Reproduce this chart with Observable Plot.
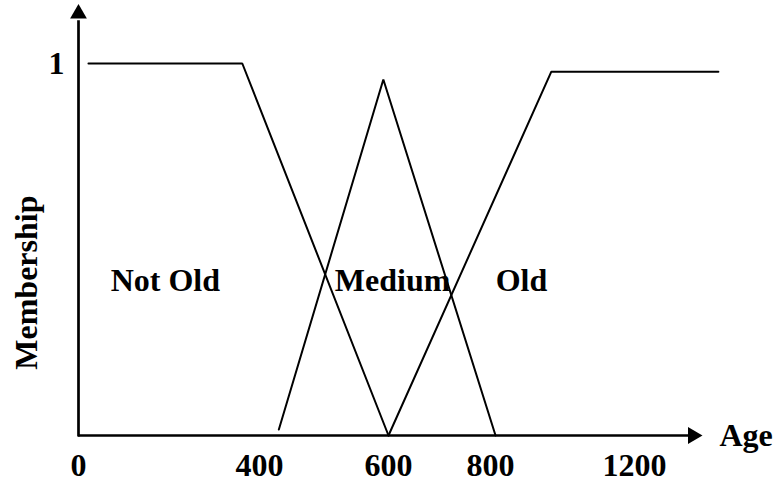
<!DOCTYPE html>
<html>
<head>
<meta charset="utf-8">
<script src="https://cdn.jsdelivr.net/npm/d3@7"></script>
<script src="https://cdn.jsdelivr.net/npm/@observablehq/plot@0.6"></script>
<style>
  html, body { margin: 0; padding: 0; background: #fff; }
  svg { display: block; }
</style>
</head>
<body>
<div id="chart"></div>
<script>
// Fuzzy membership functions for age: [age, membership] break points
const ageTicks = [0, 400, 600, 800, 1200];
const membershipTicks = [1];
const notOld = [[22, 1], [362, 1], [600, 0]];
const medium = [[430, 0.016], [592, 0.957], [814, 0]];
const old = [[600, 0], [969, 0.978], [1433, 0.978]];
const setNames = ["Not Old", "Medium", "Old"];
const setLabelAge = [192, 608, 886];
const setLabelMembership = [0.417, 0.417, 0.417];

// The age axis is not evenly spaced: each tick sits at its own distance along the axis
const tickSpacing = [0, 181, 310, 412, 556];
const agePos = d3.scaleLinear().domain(ageTicks).range(tickSpacing);

// Axis extents (arrow tips) in data units
const ageAxisEnd = 1352, ageArrow = 1362;
const membershipAxisEnd = 1.115, membershipArrow = 1.134;

const font = "'Liberation Serif', 'Times New Roman', serif";
const labels = setNames.map((name, i) => ({name, age: setLabelAge[i], m: setLabelMembership[i]}));
const lineOpts = {x: d => agePos(d[0]), y: d => d[1], stroke: "black", strokeWidth: 2, strokeLinejoin: "miter"};
const textOpts = {fontSize: 32, fontWeight: "bold", fontFamily: font, fill: "black"};

const chart = Plot.plot({
  width: 776,
  height: 482,
  marginTop: 63,
  marginBottom: 47,
  marginLeft: 78,
  marginRight: 142,
  style: {fontFamily: font, fontWeight: "bold", fontSize: "32px", background: "#fff", color: "black"},
  x: {domain: [tickSpacing[0], tickSpacing[tickSpacing.length - 1]]},
  y: {domain: [0, 1]},
  marks: [
    // axes with arrowheads
    Plot.ruleY([0], {x1: agePos(0), x2: agePos(ageAxisEnd), stroke: "black", strokeWidth: 2.7}),
    Plot.ruleX([agePos(0)], {y1: -0.004, y2: membershipAxisEnd, stroke: "black", strokeWidth: 2.7}),
    Plot.dot([0], {x: agePos(ageArrow), y: 0, symbol: "triangle2", r: 8, fill: "black", rotate: 90}),
    Plot.dot([0], {x: agePos(0), y: membershipArrow, symbol: "triangle2", r: 8, fill: "black"}),
    Plot.axisX({ticks: ageTicks.map(agePos), tickSize: 0, tickPadding: 18,
      tickFormat: d => String(Math.round(agePos.invert(d))), label: null, ...textOpts}),
    Plot.axisY({ticks: membershipTicks, tickSize: 0, tickPadding: 14, tickFormat: d => String(d), label: null, ...textOpts}),
    Plot.text(["Age"], {x: agePos(1436), y: 0, textAnchor: "start", lineAnchor: "middle", ...textOpts}),
    Plot.text(["Membership"], {x: agePos(0), y: 0.411, dx: -52, rotate: -90, textAnchor: "middle", lineAnchor: "middle", ...textOpts}),
    // membership functions
    Plot.line(notOld, lineOpts),
    Plot.line(medium, lineOpts),
    Plot.line(old, lineOpts),
    Plot.text(labels, {x: d => agePos(d.age), y: "m", text: "name", textAnchor: "middle", lineAnchor: "middle", ...textOpts})
  ]
});
document.getElementById("chart").appendChild(chart);
</script>
</body>
</html>
